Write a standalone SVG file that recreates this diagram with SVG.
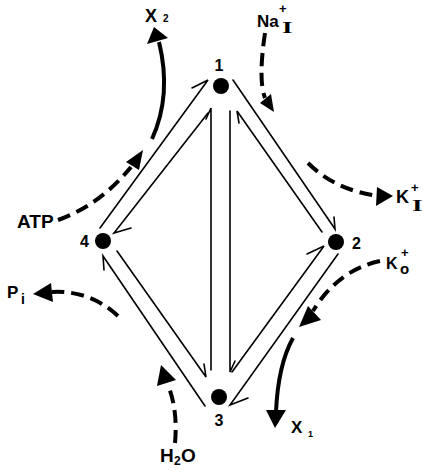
<svg xmlns="http://www.w3.org/2000/svg" width="424" height="472" viewBox="0 0 424 472">
<defs>
<style>
.t{font-family:"Liberation Sans",Arial,sans-serif;font-weight:bold;fill:#000}
.s{font-family:"Liberation Serif","Times New Roman",serif;font-weight:bold;fill:#000}
.ln{stroke:#000;stroke-width:1.6;fill:none;stroke-linecap:round}
.cv{stroke:#000;stroke-width:4;fill:none;stroke-linecap:butt}
.dash{stroke-dasharray:13 7}
.ah{fill:#000;stroke:none}
</style>
</defs>
<rect width="424" height="472" fill="#fff"/>
<g id="connectors">
  <path class="ln" d="M100,228 L208,80 L192,88"/>
  <path class="ln" d="M208,113 L114,233 L131,228"/>
  <path class="ln" d="M233,80 L335,229 L334,217"/>
  <path class="ln" d="M322,232 L237,111 L239,123"/>
  <path class="ln" d="M232,372 L324,246 L307,254"/>
  <path class="ln" d="M338,254 L230,405 L248,398"/>
  <path class="ln" d="M205,406 L103,256 L104,270"/>
  <path class="ln" d="M117,251 L206,377 L204,364"/>
  <path class="ln" d="M211,370 L211,108 L206,119"/>
  <path class="ln" d="M230,111 L230,372 L235,361"/>

  <path class="cv" d="M152,139 Q172,95 159,42"/>
  <polygon class="ah" points="154,27 147,44 168,38"/>
  <path class="cv dash" d="M58,220 Q100,205 131,167"/>
  <polygon class="ah" points="143,150 126,162 139,170"/>
  <path class="cv dash" d="M265,33 Q258,80 265,98"/>
  <polygon class="ah" points="274,112 260,103 271,94"/>
  <path class="cv dash" d="M308,163 Q335,190 378,196"/>
  <polygon class="ah" points="393,196 377,187 376,206"/>
  <path class="cv dash" d="M380,261 Q338,270 313,311"/>
  <polygon class="ah" points="299,327 308,306 321,320"/>
  <path class="cv" d="M293,338 Q278,365 276,412"/>
  <polygon class="ah" points="275,428 266,410 286,410"/>
  <path class="cv dash" d="M118,316 Q90,290 52,292"/>
  <polygon class="ah" points="33,294 51,283 53,302"/>
  <path class="cv dash" d="M175,443 Q178,410 168,385"/>
  <polygon class="ah" points="161,365 157,386 176,380"/>
</g>
<g id="node1"><circle cx="221" cy="86" r="8"/><text class="t" x="219" y="71" font-size="16" text-anchor="middle">1</text></g>
<g id="node2"><circle cx="336" cy="242" r="8"/><text class="t" x="352" y="249" font-size="16">2</text></g>
<g id="node3"><circle cx="219" cy="397" r="8"/><text class="t" x="219" y="426" font-size="16" text-anchor="middle">3</text></g>
<g id="node4"><circle cx="103" cy="241" r="8"/><text class="t" x="80" y="247" font-size="16">4</text></g>
<g id="labels">
  <text class="t" x="145" y="22" font-size="18">X</text><text class="t" x="163" y="22" font-size="10">2</text>
  <text class="t" x="257" y="27" font-size="17">Na</text><text class="t" x="279" y="13" font-size="13">+</text><text class="s" transform="translate(282,33) scale(1.6,1)" font-size="17">I</text>
  <text class="t" x="396" y="203" font-size="18">K</text><text class="t" x="411" y="192" font-size="13">+</text><text class="s" transform="translate(412,211) scale(1.6,1)" font-size="17">I</text>
  <text class="t" x="386" y="269" font-size="16">K</text><text class="t" x="401" y="257" font-size="13">+</text><text class="t" x="400" y="274" font-size="15">o</text>
  <text class="t" x="291" y="433" font-size="17">X</text><text class="t" x="308" y="437" font-size="9">1</text>
  <text class="t" x="17" y="228" font-size="19">ATP</text>
  <text class="t" x="7" y="298" font-size="17">P</text><text class="t" x="21" y="304" font-size="14">i</text>
  <text class="t" x="160" y="462" font-size="19">H</text><text class="t" x="174" y="465" font-size="12">2</text><text class="t" x="181" y="462" font-size="19">O</text>
</g>
</svg>
